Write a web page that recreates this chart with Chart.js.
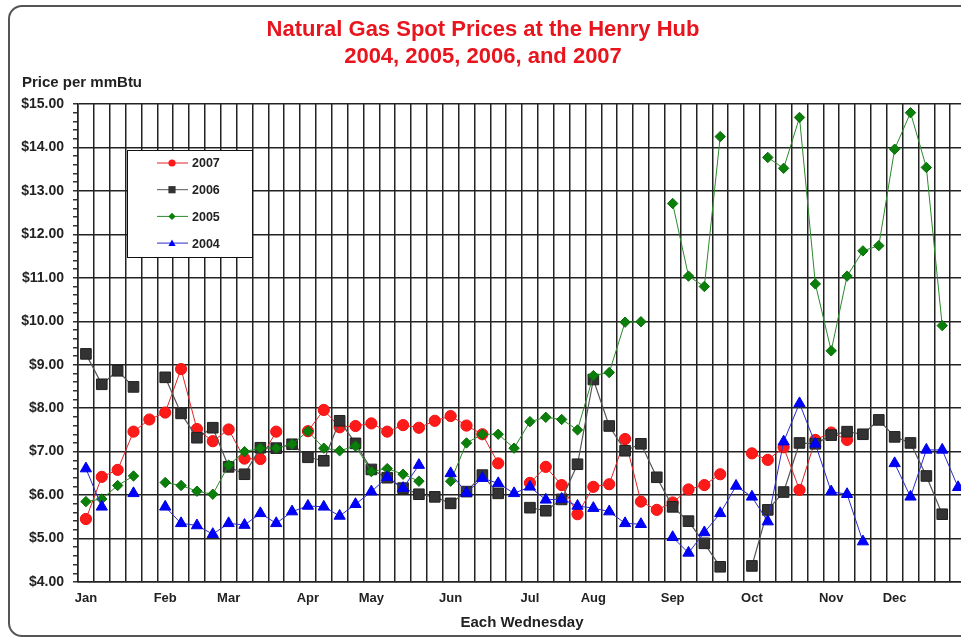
<!DOCTYPE html>
<html>
<head>
<meta charset="utf-8">
<title>Natural Gas Spot Prices at the Henry Hub</title>
<script src="https://cdn.jsdelivr.net/npm/chart.js@4.4.1/dist/chart.umd.min.js"></script>
<style>
    html, body { margin: 0; padding: 0; overflow: hidden; background: #fff; width: 961px; height: 643px; }
    #frame { position: absolute; left: 8px; top: 5px; width: 1100px; height: 628px; border: 2px solid #555; border-radius: 14px; }
    #grafico { position: absolute; left: 0; top: 0; }
</style>
</head>
<body>
<div id="frame"></div>
<canvas id="grafico" width="990" height="643"></canvas>
<script>
// one category per Wednesday, month name on the first week of the month
const weekLabels = [
    'Jan', '', '', '', '',
    'Feb', '', '', '',
    'Mar', '', '', '', '',
    'Apr', '', '', '',
    'May', '', '', '', '',
    'Jun', '', '', '', '',
    'Jul', '', '', '',
    'Aug', '', '', '', '',
    'Sep', '', '', '', '',
    'Oct', '', '', '', '',
    'Nov', '', '', '',
    'Dec', '', '', '', ''
]

const prices2007 = [5.45, 6.42, 6.58, 7.46, 7.74, 7.90, 8.90, 7.52, 7.24, 7.51, 6.84, 6.83, 7.46, null,
    7.47, 7.96, 7.56, 7.59, 7.65, 7.46, 7.61, 7.55, 7.71, 7.82, 7.60, 7.40, 6.73, null,
    6.28, 6.65, 6.23, 5.56, 6.19, 6.25, 7.29, 5.85, 5.66, 5.83, 6.13, 6.23, 6.48, null,
    6.96, 6.81, 7.10, 6.12, 7.27, 7.44, 7.27, null, null, null, null, null, null, null]

const prices2006 = [9.25, 8.55, 8.86, 8.49, null, 8.71, 7.88, 7.32, 7.55, 6.65, 6.48, 7.09, 7.08, 7.17,
    6.87, 6.79, 7.71, 7.19, 6.59, 6.40, 6.16, 6.02, 5.96, 5.81, 6.08, 6.46, 6.04, null,
    5.71, 5.64, 5.90, 6.71, 8.66, 7.59, 7.02, 7.18, 6.41, 5.73, 5.40, 4.89, 4.35, null,
    4.37, 5.66, 6.07, 7.20, 7.18, 7.38, 7.46, 7.40, 7.73, 7.34, 7.20, 6.44, 5.56, null]

const prices2005 = [5.85, 5.91, 6.22, 6.44, null, 6.29, 6.22, 6.09, 6.02, 6.69, 7.00, 7.08, 7.08, 7.17,
    7.47, 7.08, 7.02, 7.13, 6.54, 6.61, 6.48, 6.32, null, 6.32, 7.20, 7.40, 7.40, 7.08,
    7.69, 7.79, 7.74, 7.50, 8.75, 8.82, 9.98, 9.99, null, 12.71, 11.04, 10.80, 14.25, null,
    null, 13.77, 13.52, 14.69, 10.86, 9.32, 11.04, 11.62, 11.74, 13.96, 14.80, 13.54, 9.90, null]

const prices2004 = [6.61, 5.73, null, 6.04, null, 5.73, 5.35, 5.30, 5.10, 5.35, 5.31, 5.58, 5.35, 5.62,
    5.75, 5.73, 5.52, 5.79, 6.08, 6.41, 6.16, 6.69, null, 6.50, 6.05, 6.39, 6.27, 6.04,
    6.19, 5.89, 5.91, 5.75, 5.70, 5.62, 5.35, 5.33, null, 5.03, 4.67, 5.14, 5.58, 6.21,
    5.96, 5.39, 7.23, 8.11, 7.18, 6.08, 6.02, 4.93, null, 6.73, 5.96, 7.04, 7.04, 6.18]

const fonte = '"Liberation Sans", Arial, Helvetica, sans-serif'
Chart.defaults.font.family = fonte
Chart.defaults.color = '#222'
Chart.defaults.animation = false

function isWhole(v) {
    return Math.abs(v - Math.round(v)) < 1e-6
}

// small marker used in the boxed legend
function marker(ctx, style, x, y, r) {
    ctx.beginPath()
    if (style === 'circle') {
        ctx.arc(x, y, r, 0, Math.PI * 2)
    } else if (style === 'rect') {
        ctx.rect(x - r, y - r, r * 2, r * 2)
    } else if (style === 'rectRot') {
        ctx.moveTo(x, y - r); ctx.lineTo(x + r, y); ctx.lineTo(x, y + r); ctx.lineTo(x - r, y)
        ctx.closePath()
    } else {
        ctx.moveTo(x, y - r); ctx.lineTo(x + r, y + r * 0.8); ctx.lineTo(x - r, y + r * 0.8)
        ctx.closePath()
    }
    ctx.fill()
}

const extras = {
    id: 'extras',
    afterDraw(chart) {
        const ctx = chart.ctx
        ctx.save()
        ctx.fillStyle = '#222'
        ctx.font = 'bold 15px ' + fonte
        ctx.textAlign = 'left'
        ctx.textBaseline = 'middle'
        ctx.fillText('Price per mmBtu', 22, 83)

        // legend box
        ctx.fillStyle = '#fff'
        ctx.fillRect(127, 150, 125, 107)
        ctx.strokeStyle = '#111'
        ctx.lineWidth = 1
        ctx.strokeRect(127.5, 150.5, 125, 107)
        chart.data.datasets.forEach((ds, k) => {
            const y = 163 + k * 26.7
            ctx.strokeStyle = ds.borderColor
            ctx.lineWidth = 1
            ctx.beginPath()
            ctx.moveTo(157, y)
            ctx.lineTo(188, y)
            ctx.stroke()
            ctx.fillStyle = ds.pointBackgroundColor
            marker(ctx, ds.pointStyle, 172, y, 3.6)
            ctx.fillStyle = '#222'
            ctx.font = 'bold 12.5px ' + fonte
            ctx.fillText(ds.label, 192, y + 1)
        })
        ctx.restore()
    }
}

const ctx = document.getElementById('grafico')

new Chart(ctx, {
    type: 'line',
    data: {
        labels: weekLabels,
        datasets: [{
            label: '2007',
            data: prices2007,
            borderColor: '#e02424',
            borderWidth: 1,
            pointStyle: 'circle',
            pointRadius: 5.6,
            pointBackgroundColor: '#ff1a1a',
            pointBorderColor: '#f01010',
            pointBorderWidth: 1,
            order: 4
        }, {
            label: '2006',
            data: prices2006,
            borderColor: '#555',
            borderWidth: 1.2,
            pointStyle: 'rect',
            pointRadius: 7.5,
            pointBackgroundColor: '#333',
            pointBorderColor: '#222',
            pointBorderWidth: 1,
            order: 3
        }, {
            label: '2005',
            data: prices2005,
            borderColor: '#2a8a2a',
            borderWidth: 1,
            pointStyle: 'rectRot',
            pointRadius: 5.2,
            pointBackgroundColor: '#0a800a',
            pointBorderColor: '#086c08',
            pointBorderWidth: 1,
            order: 2
        }, {
            label: '2004',
            data: prices2004,
            borderColor: '#2b2bd0',
            borderWidth: 1,
            pointStyle: 'triangle',
            pointRadius: 6.5,
            pointBackgroundColor: '#0000ff',
            pointBorderColor: '#0000e0',
            pointBorderWidth: 1,
            order: 1
        }]
    },
    options: {
        responsive: false,
        layout: { padding: { left: 0, right: 24, top: 0, bottom: 8 } },
        plugins: {
            legend: { display: false },
            tooltip: { enabled: false },
            title: {
                display: true,
                text: ['Natural Gas Spot Prices at the Henry Hub', '2004, 2005, 2006, and 2007'],
                color: '#e8141e',
                font: { size: 22, weight: 'bold', lineHeight: 1.2 },
                padding: { top: 17, bottom: 34.2 }
            }
        },
        scales: {
            x: {
                offset: true,
                grid: { offset: true, color: '#222', lineWidth: 1.5, drawTicks: false },
                border: { color: '#222', width: 1.5 },
                ticks: {
                    autoSkip: false, maxRotation: 0, minRotation: 0, padding: 9,
                    color: '#222', font: { size: 13, weight: 'bold' }
                },
                title: {
                    display: true, text: 'Each Wednesday', color: '#222',
                    font: { size: 15, weight: 'bold' }, padding: { top: 2, bottom: 3 }
                },
                afterFit: scale => { scale.height = 53 }
            },
            y: {
                min: 4,
                max: 15,
                grid: {
                    color: c => isWhole(c.tick.value) ? '#222' : 'rgba(0,0,0,0)',
                    tickColor: '#333',
                    lineWidth: 1.5,
                    tickLength: 5
                },
                border: { color: '#222', width: 1.5 },
                ticks: {
                    stepSize: 0.2,
                    autoSkip: false,
                    padding: 9,
                    color: '#222',
                    font: { size: 14, weight: 'bold' },
                    callback: v => isWhole(v) ? '$' + v.toFixed(2) : ''
                },
                afterFit: scale => { scale.width = 78 }
            }
        }
    },
    plugins: [extras]
})
</script>
</body>
</html>
